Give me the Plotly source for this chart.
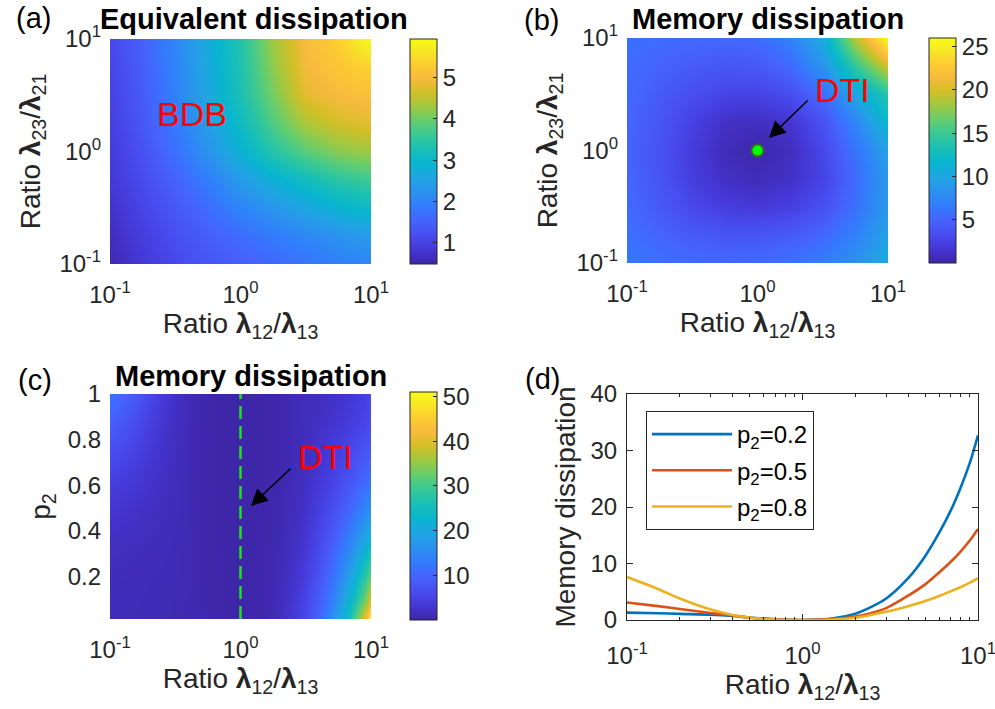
import plotly.graph_objects as go

# ---------------- data ----------------
# panel (a)/(b) grid: ratios lambda12/lambda13 (x) and lambda23/lambda21 (y)
ratio_grid = [0.1, 0.178, 0.316, 0.562, 1.0, 1.778, 3.162, 5.623, 10.0]

# (a) Equivalent dissipation, rows = lambda23/lambda21 (bottom->top)
equiv_diss = [
    [0.55, 0.85, 1.10, 1.30, 1.45, 1.60, 1.75, 1.90, 2.00],
    [0.65, 0.95, 1.20, 1.45, 1.65, 1.85, 2.05, 2.25, 2.40],
    [0.75, 1.05, 1.35, 1.65, 2.00, 2.30, 2.60, 2.85, 3.05],
    [0.85, 1.15, 1.50, 1.90, 2.40, 2.80, 3.15, 3.45, 3.65],
    [0.90, 1.25, 1.70, 2.25, 2.85, 3.40, 3.85, 4.15, 4.30],
    [0.95, 1.35, 1.85, 2.45, 3.10, 3.80, 4.40, 4.65, 4.80],
    [1.00, 1.40, 1.95, 2.60, 3.30, 4.05, 4.80, 5.00, 5.08],
    [1.05, 1.45, 2.00, 2.65, 3.35, 4.20, 4.95, 5.18, 5.40],
    [1.10, 1.50, 2.05, 2.70, 3.40, 4.30, 5.02, 5.32, 5.93],
]

# (b) Memory dissipation, rows = lambda23/lambda21 (bottom->top)
mem_diss_b = [
    [6.3, 5.8, 5.5, 5.4, 5.5, 5.9, 6.8, 8.3, 10.5],
    [5.8, 5.0, 4.3, 3.9, 3.9, 4.3, 5.2, 7.0, 9.6],
    [5.4, 4.2, 2.9, 2.1, 1.8, 2.3, 3.5, 5.8, 9.0],
    [5.1, 3.8, 2.2, 1.0, 0.6, 1.1, 2.6, 5.4, 9.0],
    [5.0, 3.7, 2.0, 0.6, 0.1, 0.8, 2.8, 6.0, 9.6],
    [5.1, 3.9, 2.4, 1.1, 0.8, 1.5, 3.6, 7.3, 12.0],
    [5.3, 4.3, 3.3, 2.6, 2.5, 3.3, 5.6, 10.0, 14.0],
    [5.5, 4.9, 4.3, 4.0, 4.1, 5.3, 8.5, 14.5, 20.0],
    [5.8, 5.5, 5.3, 5.2, 5.5, 7.0, 10.5, 19.0, 26.0],
]
dti_x = [1.0]
dti_y = [1.0]

# (c)/(d): ratio lambda12/lambda13 and p2
ratio_line = [0.1, 0.15, 0.2, 0.3, 0.4, 0.5, 0.7, 1, 1.5, 2, 2.5, 3, 4, 5, 6, 7, 8, 9, 10]
p2_grid = [0.01, 0.1, 0.2, 0.35, 0.5, 0.65, 0.8, 0.9, 1.0]

mem_p2_02 = [1.3, 1.2, 1.08, 0.92, 0.7, 0.45, 0.12, 0.0, 0.3, 1.1, 2.4, 3.8, 7.4, 11.3, 15.4, 19.4, 23.6, 27.9, 32.7]
mem_p2_05 = [3.1, 2.45, 1.95, 1.25, 0.8, 0.4, 0.08, 0.0, 0.15, 0.6, 1.3, 2.1, 4.3, 6.3, 8.4, 10.3, 12.2, 14.1, 16.1]
mem_p2_08 = [7.6, 5.5, 3.8, 1.85, 0.9, 0.42, 0.07, 0.0, 0.1, 0.4, 0.95, 1.45, 2.45, 3.35, 4.25, 5.1, 5.85, 6.6, 7.4]

mem_diss_c = [
    [1.0, 1.05, 0.98, 0.85, 0.64, 0.5, 0.15, 0.0, 0.45, 1.57, 3.48, 5.39, 9.93, 15.44, 21.3, 27.0, 33.5, 41.0, 51.0],
    [1.15, 1.1, 1.0, 0.87, 0.67, 0.47, 0.13, 0.0, 0.37, 1.33, 2.93, 4.59, 8.68, 13.39, 18.41, 23.19, 28.3, 33.15, 40.5],
    mem_p2_02,
    [1.86, 1.6, 1.39, 1.05, 0.75, 0.42, 0.1, 0.0, 0.21, 0.81, 1.76, 2.83, 5.71, 8.56, 11.68, 14.45, 17.44, 20.16, 23.4],
    mem_p2_05,
    [5.01, 3.75, 2.75, 1.51, 0.85, 0.4, 0.07, 0.0, 0.11, 0.46, 1.03, 1.63, 3.16, 4.51, 5.98, 7.23, 8.49, 9.61, 10.77],
    mem_p2_08,
    [9.7, 6.92, 4.63, 2.11, 0.93, 0.44, 0.07, 0.0, 0.1, 0.4, 0.9, 1.3, 1.88, 2.59, 3.21, 3.93, 4.47, 5.03, 6.26],
    [12.1, 8.53, 5.58, 2.4, 0.97, 0.45, 0.07, 0.0, 0.1, 0.38, 0.88, 1.25, 1.58, 2.19, 2.61, 3.29, 3.73, 4.26, 5.99],
]
dti_line_x = [1.0, 1.0]
dti_line_y = [0.015, 1.0]

line_labels = ["p<sub>2</sub>=0.2", "p<sub>2</sub>=0.5", "p<sub>2</sub>=0.8"]
log_ticks = [0.1, 1, 10]
log_ticktext = ["10<sup>-1</sup>", "10<sup>0</sup>", "10<sup>1</sup>"]

# ---------------- style ----------------
FONT = "Liberation Sans, Arial, Helvetica, sans-serif"
DARK = "#262626"
parula = [
    [0 / 63, "rgb(62,38,168)"], [4 / 63, "rgb(69,55,213)"], [8 / 63, "rgb(72,77,240)"],
    [12 / 63, "rgb(69,99,253)"], [16 / 63, "rgb(50,124,252)"], [20 / 63, "rgb(43,145,239)"],
    [24 / 63, "rgb(32,165,227)"], [28 / 63, "rgb(8,181,208)"], [32 / 63, "rgb(25,191,182)"],
    [36 / 63, "rgb(55,200,151)"], [40 / 63, "rgb(100,205,111)"], [44 / 63, "rgb(157,201,67)"],
    [48 / 63, "rgb(209,191,39)"], [52 / 63, "rgb(248,186,61)"], [56 / 63, "rgb(252,207,48)"],
    [60 / 63, "rgb(247,234,36)"], [1.0, "rgb(249,251,21)"],
]
line_colors = ["#0072BD", "#D95319", "#EDB120"]

W, H = 995, 709
TICK_SIZE = 24
LABEL_SIZE = 28


def px_x(p):
    return p / W


def px_y(p):
    return 1 - p / H


def cbar(x_px, top_px, bot_px, ticks):
    return dict(
        x=px_x(x_px), xanchor="left", xpad=0, ypad=0,
        y=px_y((top_px + bot_px) / 2), yanchor="middle",
        len=bot_px - top_px, lenmode="pixels",
        thickness=27, thicknessmode="pixels",
        outlinewidth=1, outlinecolor=DARK,
        tickvals=ticks, ticks="inside", ticklen=4, tickcolor=DARK,
        tickfont=dict(size=TICK_SIZE, color=DARK, family=FONT),
    )


fig = go.Figure()

fig.add_trace(go.Heatmap(
    x=ratio_grid, y=ratio_grid, z=equiv_diss, zsmooth="best",
    colorscale=parula, zmin=0.49, zmax=5.93,
    colorbar=cbar(410, 39, 264, [1, 2, 3, 4, 5]),
    xaxis="x", yaxis="y",
))
fig.add_trace(go.Heatmap(
    x=ratio_grid, y=ratio_grid, z=mem_diss_b, zsmooth="best",
    colorscale=parula, zmin=0.0, zmax=26.0,
    colorbar=cbar(929, 38, 263, [5, 10, 15, 20, 25]),
    xaxis="x2", yaxis="y2",
))
fig.add_trace(go.Scatter(
    x=dti_x, y=dti_y, mode="markers", xaxis="x2", yaxis="y2", showlegend=False,
    marker=dict(size=12, color="#00FF00", line=dict(width=2, color="#2F6B2F")),
))
fig.add_trace(go.Heatmap(
    x=ratio_line, y=p2_grid, z=mem_diss_c, zsmooth="best",
    colorscale=parula, zmin=0.0, zmax=51.0,
    colorbar=cbar(410, 392, 620, [10, 20, 30, 40, 50]),
    xaxis="x3", yaxis="y3",
))
fig.add_trace(go.Scatter(
    x=dti_line_x, y=dti_line_y, mode="lines", xaxis="x3", yaxis="y3", showlegend=False,
    line=dict(color="#1FE01F", width=2.5, dash="13px,7px"),
))
for i, (vals, name, col) in enumerate(zip([mem_p2_02, mem_p2_05, mem_p2_08], line_labels, line_colors)):
    fig.add_trace(go.Scatter(
        x=ratio_line, y=vals, mode="lines", name=name, legendgroup="g%d" % i,
        line=dict(color=col, width=2.6, shape="spline", smoothing=0.8),
        xaxis="x4", yaxis="y4",
    ))

axis_font = dict(size=TICK_SIZE, color=DARK, family=FONT)
title_font = dict(size=LABEL_SIZE, color=DARK, family=FONT)
xlabel = "Ratio <b>λ</b><sub>12</sub>/<b>λ</b><sub>13</sub>"
ylabel = "Ratio <b>λ</b><sub>23</sub>/<b>λ</b><sub>21</sub>"


def heat_x(domain, anchor):
    return dict(domain=domain, anchor=anchor, type="log", range=[-1, 1], automargin=False,
                tickvals=log_ticks, ticktext=log_ticktext, ticks="", showgrid=False,
                zeroline=False, showline=False, tickfont=axis_font, ticklabelstandoff=14,
                ticklabeloverflow="allow",
                title=dict(text=xlabel, font=title_font, standoff=5))


def heat_y_log(domain, anchor):
    return dict(domain=domain, anchor=anchor, type="log", range=[-1, 1], automargin=False,
                tickvals=log_ticks, ticktext=log_ticktext, ticks="", showgrid=False,
                zeroline=False, showline=False, tickfont=axis_font, ticklabelstandoff=8,
                ticklabeloverflow="allow",
                title=dict(text=ylabel, font=title_font, standoff=10))


dom_a_x = [px_x(110), px_x(371)]
dom_a_y = [px_y(264), px_y(39)]
dom_b_x = [px_x(627), px_x(888)]
dom_b_y = [px_y(263), px_y(38)]
dom_c_x = [px_x(110), px_x(371)]
dom_c_y = [px_y(619), px_y(394)]
dom_d_x = [px_x(627), px_x(978)]
dom_d_y = [px_y(620), px_y(394)]

fig.update_layout(
    width=W, height=H, autosize=False,
    margin=dict(l=0, r=0, t=0, b=0, autoexpand=False),
    paper_bgcolor="white", plot_bgcolor="white",
    font=dict(family=FONT, color=DARK),
    xaxis=heat_x(dom_a_x, "y"),
    yaxis=heat_y_log(dom_a_y, "x"),
    xaxis2=heat_x(dom_b_x, "y2"),
    yaxis2=heat_y_log(dom_b_y, "x2"),
    xaxis3=heat_x(dom_c_x, "y3"),
    yaxis3=dict(domain=dom_c_y, anchor="x3", range=[0.015, 1], tickvals=[0.2, 0.4, 0.6, 0.8, 1],
                ticktext=["0.2", "0.4", "0.6", "0.8", "1"], ticks="", showgrid=False,
                automargin=False, ticklabeloverflow="allow",
                zeroline=False, showline=False, tickfont=axis_font, ticklabelstandoff=8,
                title=dict(text="p<sub>2</sub>", font=title_font, standoff=8)),
    xaxis4=dict(domain=dom_d_x, anchor="y4", type="log", range=[-1, 1], automargin=False,
                tickvals=log_ticks, ticktext=log_ticktext, ticks="inside", ticklen=6,
                tickcolor=DARK, showline=True, linecolor=DARK, linewidth=1, mirror="ticks",
                showgrid=False, zeroline=False, tickfont=axis_font, ticklabelstandoff=14,
                ticklabeloverflow="allow",
                minor=dict(ticks="inside", ticklen=3, tickcolor=DARK,
                           tickvals=[0.2, 0.3, 0.4, 0.5, 0.6, 0.7, 0.8, 0.9, 2, 3, 4, 5, 6, 7, 8, 9]),
                title=dict(text=xlabel, font=title_font, standoff=5)),
    yaxis4=dict(domain=dom_d_y, anchor="x4", range=[0, 40], tickvals=[0, 10, 20, 30, 40],
                ticks="inside", ticklen=6, tickcolor=DARK, showline=True, linecolor=DARK,
                linewidth=1, mirror="ticks", showgrid=False, zeroline=False, tickfont=axis_font,
                ticklabelstandoff=4, automargin=False, ticklabeloverflow="allow",
                title=dict(text="Memory dissipation", font=title_font, standoff=6)),
    legend=dict(x=px_x(646), y=px_y(411), xanchor="left", yanchor="top",
                bordercolor=DARK, borderwidth=1, bgcolor="white",
                font=dict(size=24, color="black", family=FONT), itemwidth=80,
                tracegroupgap=2),
    showlegend=True,
)

annotations = []
# panel letters
for lab, cx, cy in [("(a)", 33, 18), ("(b)", 541, 20), ("(c)", 35, 380), ("(d)", 542, 379)]:
    annotations.append(dict(text=lab, x=px_x(cx), y=px_y(cy), xref="paper", yref="paper",
                            showarrow=False, font=dict(size=29, color="black", family=FONT),
                            xanchor="center", yanchor="middle"))
# titles
for lab, cx, cy in [("Equivalent dissipation", 254, 19), ("Memory dissipation", 768, 19),
                    ("Memory dissipation", 251, 376)]:
    annotations.append(dict(text="<b>" + lab + "</b>", x=px_x(cx), y=px_y(cy), xref="paper",
                            yref="paper", showarrow=False,
                            font=dict(size=29, color="black", family=FONT),
                            xanchor="center", yanchor="middle"))
red_font = dict(size=34, color="#FF0000", family=FONT)
annotations.append(dict(text="BDB", x=-0.372, y=0.333, xref="x", yref="y", showarrow=False,
                        font=red_font))
annotations.append(dict(text="DTI", x=0.655, y=0.538, xref="x2", yref="y2", showarrow=False,
                        font=red_font))
annotations.append(dict(text="DTI", x=0.648, y=0.724, xref="x3", yref="y3", showarrow=False,
                        font=red_font))
# arrows
annotations.append(dict(text="", x=0.088, y=0.111, ax=0.395, ay=0.458, xref="x2", yref="y2",
                        axref="x2", ayref="y2", showarrow=True, arrowhead=2, arrowsize=2.2,
                        arrowwidth=1.5, arrowcolor="black"))
annotations.append(dict(text="", x=0.080, y=0.51, ax=0.395, ay=0.68, xref="x3", yref="y3",
                        axref="x3", ayref="y3", showarrow=True, arrowhead=2, arrowsize=2.2,
                        arrowwidth=1.5, arrowcolor="black"))
fig.update_layout(annotations=annotations)

fig.write_html("out.html", config={"displayModeBar": False},
               post_script="document.body.style.margin='0px';document.body.style.overflow='hidden';")
